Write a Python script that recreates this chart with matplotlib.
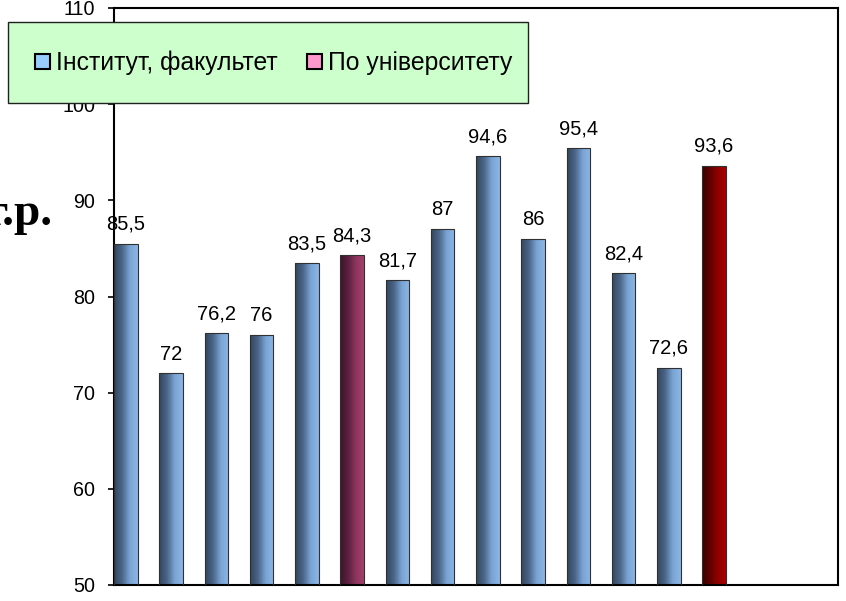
import numpy as np
import matplotlib.pyplot as plt
from matplotlib.colors import LinearSegmentedColormap
from matplotlib.patches import Patch, Rectangle

plt.rcParams['font.family'] = ['Liberation Sans', 'DejaVu Sans']

# ====================== DATA ======================
values = [85.5, 72, 76.2, 76, 83.5, 84.3, 81.7, 87, 94.6, 86, 95.4, 82.4, 72.6, 93.6]
labels = ['85,5', '72', '76,2', '76', '83,5', '84,3', '81,7', '87', '94,6', '86', '95,4', '82,4', '72,6', '93,6']
kinds = ['inst', 'inst', 'inst', 'inst', 'inst', 'uni', 'inst', 'inst', 'inst', 'inst',
         'inst', 'inst', 'inst', 'uni2']
legend_names = ['Інститут, факультет', 'По університету']

# gradient colours (dark left -> light right)
grad = {
    'inst': ['#33465e', '#4a6688', '#7aa4d4', '#8cb6e6'],
    'uni': ['#3e1428', '#5a2040', '#8e355c', '#a3406c'],
    'uni2': ['#3a0000', '#600000', '#900000', '#a80000'],
}
cmaps = {k: LinearSegmentedColormap.from_list(k, c) for k, c in grad.items()}

fig = plt.figure(figsize=(8.46, 6.01), dpi=100)
ax = fig.add_axes([114 / 846, 16 / 601, 724 / 846, 577 / 601])

x = np.arange(len(values))
width = 0.52
bars = ax.bar(x, values, width=width, color='none', edgecolor='#303030', linewidth=0.8, zorder=3)

gradient = np.linspace(0, 1, 64).reshape(1, -1)
for rect, v, k in zip(bars, values, kinds):
    x0 = rect.get_x()
    im = ax.imshow(gradient, extent=[x0, x0 + width, 50, v], aspect='auto',
                   cmap=cmaps[k], zorder=2, interpolation='bicubic')
    im.set_clip_path(rect)

for xi, v, lab in zip(x, values, labels):
    ax.annotate(lab, (xi, v), xytext=(0, 7), textcoords='offset points',
                ha='center', va='bottom', fontsize=14.5)

ax.set_xlim(-width / 2, 16 - width / 2)
ax.set_ylim(50, 110)
ax.set_yticks(np.arange(50, 111, 10))
ax.set_xticks([])
ax.tick_params(axis='y', direction='out', length=4.5, width=1.2, labelsize=14.2, pad=9)
for s in ax.spines.values():
    s.set_linewidth(1.5)
    s.set_color('black')

# cut-off axis title on the left
fig.text(53 / 846, 1 - 225 / 601, 'г.р.', ha='right', va='baseline',
         fontsize=34, fontweight='bold', family='Liberation Serif')

# legend box
box = Rectangle((8 / 846, 1 - 103 / 601), 520 / 846, 81 / 601, transform=fig.transFigure,
                facecolor='#ccffcc', edgecolor='#202020', linewidth=1.0, zorder=4)
fig.patches.append(box)
handles = [Patch(facecolor='#99ccff', edgecolor='black', linewidth=1.5),
           Patch(facecolor='#ff99cc', edgecolor='black', linewidth=1.5)]
fig.legend(handles, legend_names, loc='center left', bbox_to_anchor=(35 / 846, 1 - 63 / 601),
           ncol=2, frameon=False, fontsize=17.8, handlelength=0.6, handleheight=0.6,
           handletextpad=0.25, columnspacing=1.2, borderpad=0, borderaxespad=0)

plt.savefig('out.png', dpi=100)
